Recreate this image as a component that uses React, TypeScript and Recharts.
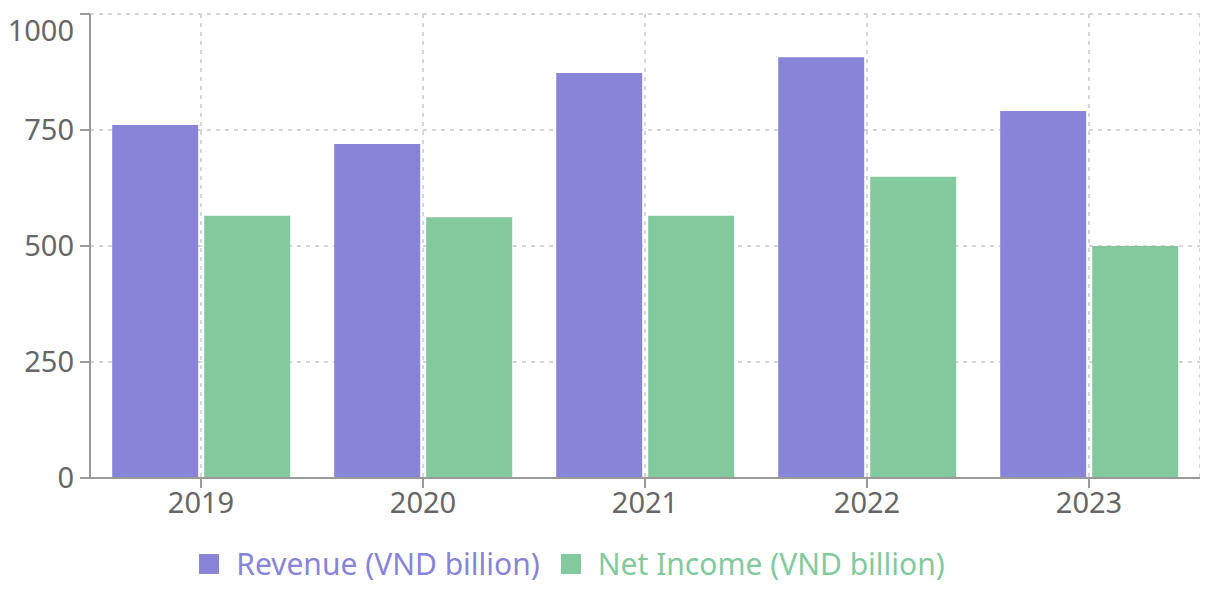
import React from 'react';
import {
  BarChart,
  Bar,
  XAxis,
  YAxis,
  CartesianGrid,
  Legend
} from 'recharts';

const years = ['2019', '2020', '2021', '2022', '2023'];
const revenue = [761, 720, 873, 907, 791];
const netIncome = [565, 562, 565, 649, 500];
const yTicks = [0, 250, 500, 750, 1000];

const seriesInfo = [
  { key: 'revenue', name: 'Revenue (VND billion)', color: '#8884d8' },
  { key: 'netIncome', name: 'Net Income (VND billion)', color: '#82ca9d' }
];

const data = years.map((year, i) => ({
  year,
  revenue: revenue[i],
  netIncome: netIncome[i]
}));

const FONT = '"Noto Sans", sans-serif';
const FS = 29;

// top label sits a bit under its grid line, like the original
const YTick = (props: any) => {
  const { x, y, payload } = props;
  const shift = payload.value === 1000 ? 14 : 0;
  return (
    <text x={x} y={y + shift} dy="0.355em" textAnchor="end" fill="#666" fontSize={FS} fontFamily={FONT}>
      {payload.value}
    </text>
  );
};

const LegendBox = () => (
  <div style={{ display: 'flex', justifyContent: 'center', paddingRight: 64, fontSize: 30, fontFamily: FONT }}>
    {seriesInfo.map((s, i) => (
      <div key={s.key} style={{ display: 'flex', alignItems: 'center', marginLeft: i ? 21 : 0 }}>
        <span style={{ width: 20, height: 20, background: s.color, display: 'inline-block', marginRight: 17 }} />
        <span style={{ color: s.color }}>{s.name}</span>
      </div>
    ))}
  </div>
);

export default function App() {
  return (
    <div style={{ width: 1200, height: 585, fontFamily: FONT }}>
      <BarChart
        width={1200}
        height={585}
        data={data}
        margin={{ top: 6, right: 8, left: 0, bottom: 10 }}
        barCategoryGap="10%"
        barGap={6}
      >
        <CartesianGrid
          stroke="#d6d6d6"
          strokeWidth={2}
          strokeDasharray="4 5"
          verticalCoordinatesGenerator={({ offset }: any) => {
            const band = offset.width / years.length;
            const pts = years.map((_, i) => offset.left + band * (i + 0.5));
            pts.push(offset.left + offset.width);
            return pts;
          }}
        />
        <XAxis
          dataKey="year"
          height={65}
          stroke="#999"
          strokeWidth={2}
          tickSize={10}
          tickMargin={4}
          tick={{ fill: '#666', fontSize: FS, fontFamily: FONT }}
        />
        <YAxis
          width={82}
          domain={[0, 1000]}
          ticks={yTicks}
          stroke="#999"
          strokeWidth={2}
          tickSize={10}
          tickMargin={6}
          tick={<YTick />}
        />
        <Legend verticalAlign="bottom" content={<LegendBox />} wrapperStyle={{ height: 40 }} />
        <Bar dataKey="revenue" name={seriesInfo[0].name} fill={seriesInfo[0].color} isAnimationActive={false} />
        <Bar dataKey="netIncome" name={seriesInfo[1].name} fill={seriesInfo[1].color} isAnimationActive={false} />
      </BarChart>
    </div>
  );
}
